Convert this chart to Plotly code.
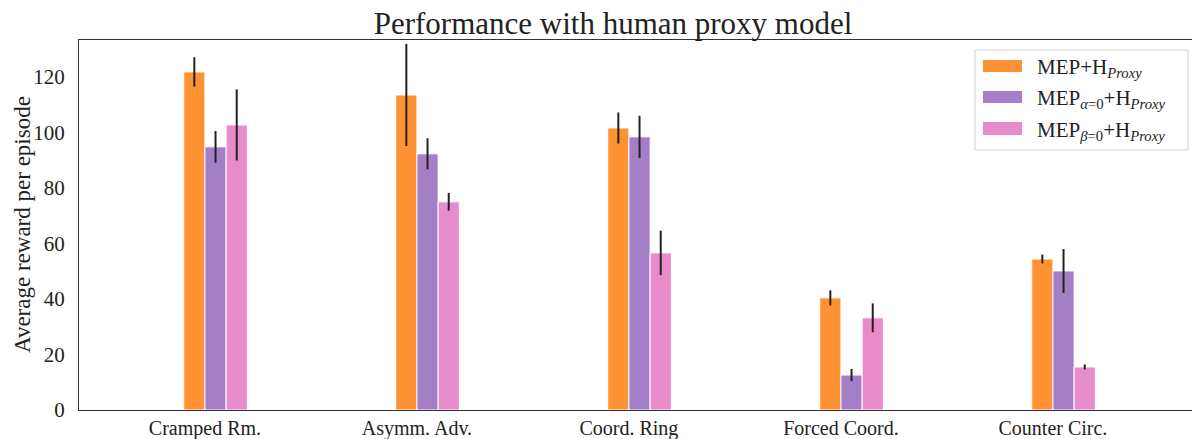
import plotly.graph_objects as go

categories = ["Cramped Rm.", "Asymm. Adv.", "Coord. Ring", "Forced Coord.", "Counter Circ."]
series_names = [
    "MEP+H<sub><i>Proxy</i></sub>",
    "MEP<sub><i>α</i>=0</sub>+H<sub><i>Proxy</i></sub>",
    "MEP<sub><i>β</i>=0</sub>+H<sub><i>Proxy</i></sub>",
]
mep_full = [121.8, 113.5, 101.6, 40.4, 54.4]
mep_full_err = [5.3, 18.4, 5.6, 2.7, 1.6]
mep_alpha0 = [94.8, 92.3, 98.4, 12.6, 50.1]
mep_alpha0_err = [5.7, 5.6, 7.6, 2.2, 7.9]
mep_beta0 = [102.7, 75.0, 56.6, 33.2, 15.5]
mep_beta0_err = [12.8, 3.2, 8.0, 5.2, 0.9]

values = [mep_full, mep_alpha0, mep_beta0]
errors = [mep_full_err, mep_alpha0_err, mep_beta0_err]
colors = ["#FF9232", "#A47EC7", "#E78BCB"]
offsets = [-0.1, 0.0, 0.1]

FONT = "Liberation Serif"

fig = go.Figure()
for name, v, e, c, o in zip(series_names, values, errors, colors, offsets):
    fig.add_trace(go.Bar(
        x=categories, y=v, name=name, width=0.1, offset=o,
        marker=dict(color=c, line=dict(color="white", width=1)),
        error_y=dict(type="data", array=e, visible=True, color="#222222",
                     thickness=2, width=0),
        showlegend=False,
    ))

W, H = 1192, 439
L, R, T, B = 79, 0, 40, 29
pw, ph = W - L - R, H - T - B

def px(x):
    return (x - L) / pw

def py(y):
    return (H - B - y) / ph

shapes = [dict(type="rect", xref="paper", yref="paper",
               x0=px(975), x1=px(1188), y0=py(150), y1=py(50),
               line=dict(color="#d0d0d0", width=1), fillcolor="rgba(255,255,255,0.85)")]
annotations = []
sw_y = [(60, 72), (91, 103), (122, 135)]
for (y0, y1), c, name in zip(sw_y, colors, series_names):
    shapes.append(dict(type="rect", xref="paper", yref="paper",
                       x0=px(983), x1=px(1022), y0=py(y1), y1=py(y0),
                       line=dict(width=0), fillcolor=c))
    annotations.append(dict(xref="paper", yref="paper", x=px(1035), y=py((y0 + y1) / 2 + 2),
                            xanchor="left", yanchor="middle", showarrow=False,
                            text=name, font=dict(family=FONT, size=21, color="#222222")))

annotations.append(dict(xref="paper", yref="paper", x=px(22), y=0.5,
                        xanchor="center", yanchor="middle", showarrow=False, textangle=-90,
                        text="Average reward per episode",
                        font=dict(family=FONT, size=23, color="#222222")))

fig.update_layout(
    width=W, height=H,
    margin=dict(l=L, r=R, t=T, b=B),
    plot_bgcolor="white", paper_bgcolor="white",
    barmode="overlay",
    font=dict(family=FONT, size=20, color="#222222"),
    title=dict(text="Performance with human proxy model", x=px(613), xref="paper",
               xanchor="center", y=1 - 23 / H, yanchor="middle",
               font=dict(family=FONT, size=31, color="#222222")),
    xaxis=dict(range=[-0.594, 4.656], showline=True, linecolor="#333333", linewidth=1.3,
               mirror=True, ticks="", showgrid=False, tickfont=dict(size=20),
               ticklabelstandoff=0, automargin=False),
    yaxis=dict(range=[0, 133.3], showline=True, linecolor="#333333", linewidth=1.3,
               ticks="", showgrid=False, zeroline=False, tickvals=[0, 20, 40, 60, 80, 100, 120],
               tickfont=dict(size=21), ticklabelstandoff=9, automargin=False),
    shapes=shapes, annotations=annotations,
)

fig.write_html("out.html", config={"displayModeBar": False},
               post_script="document.body.style.margin='0';document.body.style.padding='0';"
                           "document.body.style.overflow='hidden';")
